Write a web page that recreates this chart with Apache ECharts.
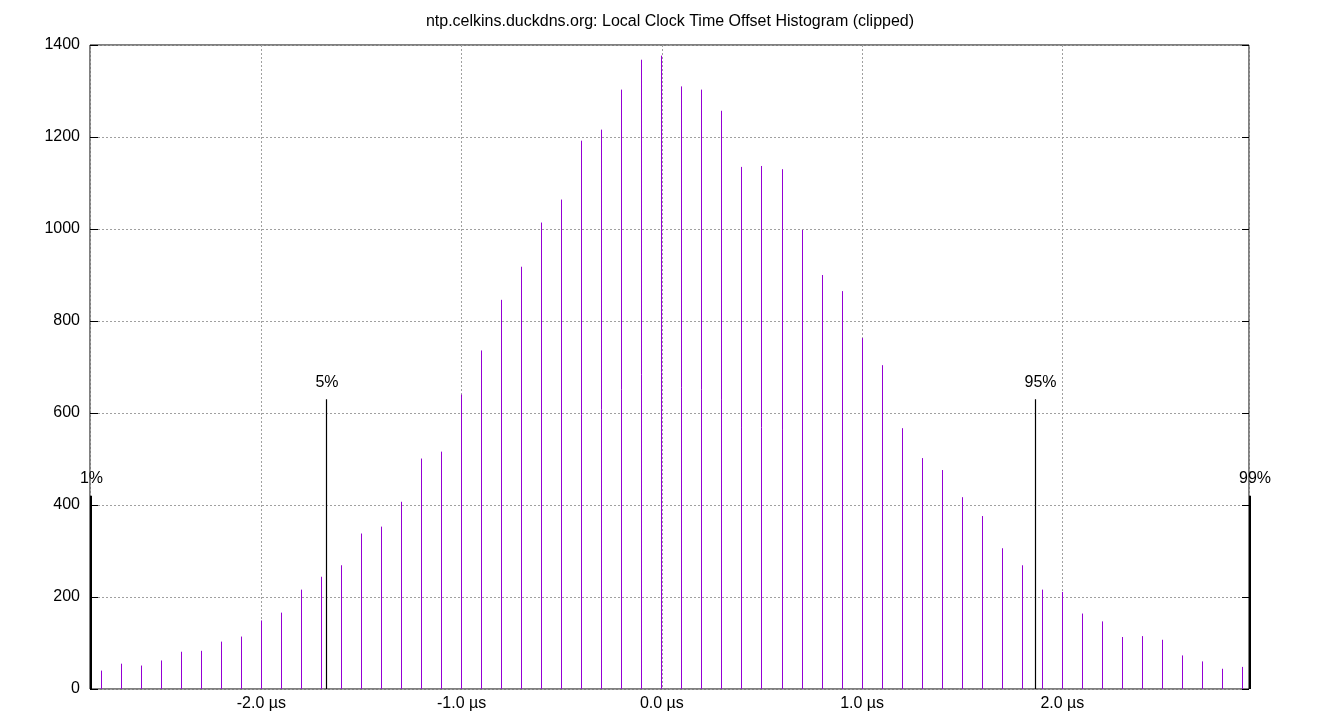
<!DOCTYPE html>
<html>
<head>
<meta charset="utf-8">
<script src="https://cdn.jsdelivr.net/npm/echarts@6/dist/echarts.min.js"></script>
<style>
html,body{margin:0;padding:0;background:#fff;}
#chart{width:1340px;height:720px;}
</style>
</head>
<body>
<div id="chart"></div>
<script>
// Histogram bins (offset in µs) and counts
const offsets = [-2.8,-2.7,-2.6,-2.5,-2.4,-2.3,-2.2,-2.1,-2.0,-1.9,-1.8,-1.7,-1.6,-1.5,-1.4,-1.3,-1.2,-1.1,-1.0,-0.9,-0.8,-0.7,-0.6,-0.5,-0.4,-0.3,-0.2,-0.1,0.0,0.1,0.2,0.3,0.4,0.5,0.6,0.7,0.8,0.9,1.0,1.1,1.2,1.3,1.4,1.5,1.6,1.7,1.8,1.9,2.0,2.1,2.2,2.3,2.4,2.5,2.6,2.7,2.8,2.9];
const counts  = [40,55,51,62,81,83,103,114,149,166,216,244,269,338,353,407,501,516,640,736,846,918,1014,1064,1192,1216,1303,1368,1377,1310,1303,1257,1135,1137,1130,998,900,865,763,704,567,502,476,417,376,306,269,216,211,164,147,113,115,107,73,60,44,48];

// Percentile markers
const pctNames   = ['1%','5%','95%','99%'];
const pctOffsets = [-2.855,-1.675,1.865,2.933];
const pctHeights = [420,630,630,420];

const xMin = -2.85574, xMax = 2.93203;
const yTicks = [0,200,400,600,800,1000,1200,1400];

const FONT = '"Liberation Sans", Arial, sans-serif';

const chart = echarts.init(document.getElementById('chart'));

const barData = offsets.map((x,i)=>[x,counts[i]]);
const pctData = pctOffsets.map((x,i)=>[x,pctHeights[i]]);

chart.setOption({
  animation:false,
  backgroundColor:'#fff',
  title:{
    text:'ntp.celkins.duckdns.org: Local Clock Time Offset Histogram (clipped)',
    left:'center', top:9,
    textStyle:{fontFamily:FONT,fontSize:16,fontWeight:'normal',color:'#000'}
  },
  grid:{left:90,top:45,width:1159,height:644,show:true,borderColor:'#000',borderWidth:1,backgroundColor:'transparent'},
  xAxis:{
    type:'value', min:xMin, max:xMax, splitNumber:5,
    axisLine:{show:false,onZero:false},
    axisTick:{show:false},
    axisLabel:{
      showMinLabel:false, showMaxLabel:false,
      fontFamily:FONT, fontSize:16, color:'#000', margin:7,
      formatter:function(v){ return Math.abs(v-Math.round(v))<1e-9 ? v.toFixed(1)+' µs' : ''; }
    },
    splitLine:{show:true,lineStyle:{color:'#a0a0a0',type:[2,2],width:1}}
  },
  yAxis:[{
    type:'value', position:'left', min:yTicks[0], max:yTicks[yTicks.length-1], interval:yTicks[1]-yTicks[0],
    axisLine:{show:false,onZero:false},
    axisTick:{show:true,inside:true,length:8,lineStyle:{color:'#000',width:1}},
    axisLabel:{fontFamily:FONT,fontSize:16,color:'#000',margin:10,formatter:function(v){return String(v);}},
    splitLine:{show:true,lineStyle:{color:'#a0a0a0',type:[2,2],width:1}}
  },{
    type:'value', position:'right', min:yTicks[0], max:yTicks[yTicks.length-1], interval:yTicks[1]-yTicks[0],
    axisLine:{show:false,onZero:false},
    axisTick:{show:true,inside:true,length:7,lineStyle:{color:'#000',width:1}},
    axisLabel:{show:false},
    splitLine:{show:false}
  }],
  series:[{
    type:'custom',
    data:barData,
    clip:true,
    renderItem:function(params,api){
      const top = api.coord([api.value(0),api.value(1)]);
      const bot = api.coord([api.value(0),0]);
      const x = Math.floor(top[0])+0.5;
      return {type:'line',shape:{x1:x,y1:top[1],x2:x,y2:bot[1]},style:{stroke:'#9400d3',lineWidth:1}};
    }
  },{
    type:'custom',
    data:pctData,
    clip:false,
    z:5,
    renderItem:function(params,api){
      const i = params.dataIndex;
      const top = api.coord([api.value(0),api.value(1)]);
      const bot = api.coord([api.value(0),0]);
      const edge = (i===0 || i===pctNames.length-1);
      const x = edge ? Math.floor(top[0])+1 : Math.floor(top[0])+0.5;
      return {type:'group',children:[
        {type:'line',shape:{x1:x,y1:top[1],x2:x,y2:bot[1]},style:{stroke:'#000',lineWidth:edge?2:1.2}},
        {type:'text',style:{text:pctNames[i],x:x+(i>=2?5:0.5),y:top[1]-9,align:'center',verticalAlign:'bottom',font:'16px '+FONT,fill:'#000'}}
      ]};
    }
  }]
});
</script>
</body>
</html>
